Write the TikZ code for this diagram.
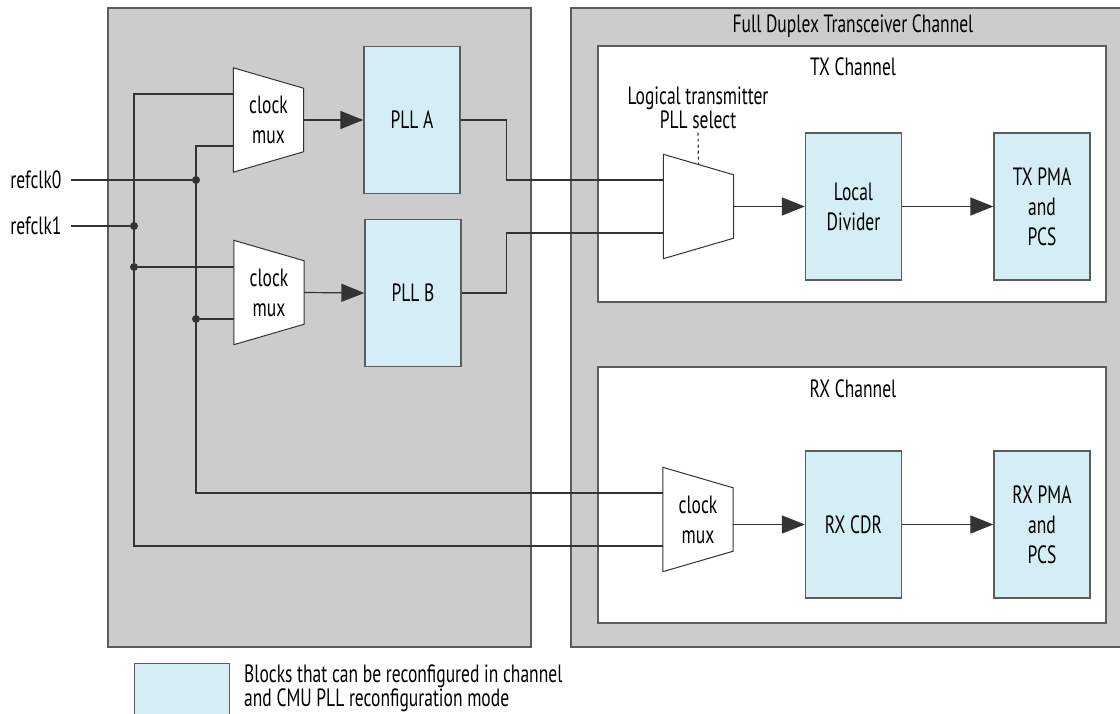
\documentclass[tikz,border=0pt]{standalone}
\usepackage{fontspec}
\setmainfont[FakeStretch=0.7]{PT Sans}
\usepackage{xcolor}
\usepackage{tikz}
\usetikzlibrary{arrows.meta,backgrounds}
\definecolor{framegray}{HTML}{CCCCCC}
\definecolor{cfgblue}{HTML}{D5EEF6}
\definecolor{edgegray}{HTML}{5C5C5C}
\definecolor{wiregray}{HTML}{333333}
\pgfdeclarelayer{frame}
\pgfsetlayers{frame,background,main}
\newcommand{\muxpoly}[1]{%
  \begin{scope}[on background layer]
    \draw[muxline] (#1.north west) -- ([yshift=-20.5pt]#1.north east) -- ([yshift=20.5pt]#1.south east) -- (#1.south west) -- cycle;
  \end{scope}}

\begin{document}
\begin{tikzpicture}[
  x=1pt, y=-1pt,
  font=\fontsize{25}{30}\selectfont,
  frame/.style={draw=edgegray, line width=1.5pt, fill=framegray},
  chan/.style={draw=edgegray, line width=1.5pt, fill=white},
  blk/.style={draw=edgegray, line width=1.3pt, fill=cfgblue, minimum width=96pt, minimum height=147pt, align=center, inner sep=0pt},
  mux/.style={minimum width=70pt, minimum height=104pt, align=center, inner sep=0pt},
  muxline/.style={draw=wiregray, line width=1pt, fill=white},
  sig/.style={draw=wiregray, line width=1.2pt},
  arr/.style={sig, -{Triangle[length=23pt, width=18pt]}},
  dot/.style={circle, fill=wiregray, inner sep=0pt, minimum size=8pt}
]
\useasboundingbox (0,0) rectangle (1120,714);
% Frames
\begin{pgfonlayer}{frame}
\draw[frame] (108,8) rectangle (531,647);
\draw[frame] (571,8) rectangle (1126,647);
\draw[chan] (598,46) rectangle (1106,302);
\draw[chan] (598,367) rectangle (1106,623);
\end{pgfonlayer}
\node (duplex) at (853,26) {Full Duplex Transceiver Channel};
\node (txlab) at (853,67) {TX Channel};
\node (rxlab) at (853,389) {RX Channel};
% PLL side
\node[mux] (muxA) at (268.5,120) {clock\\mux};
\node[mux] (muxB) at (269,292.5) {clock\\mux};
\muxpoly{muxA}
\muxpoly{muxB}
\node[blk] (pllA) at (412,120) {PLL A};
\node[blk] (pllB) at (413,293) {PLL B};
\node[anchor=east] (clk0) at (65,180) {refclk0};
\node[anchor=east] (clk1) at (65,226) {refclk1};
\node[dot] (j0) at (196,180) {};
\node[dot] (j1) at (134,226) {};
\node[dot] (j2) at (134,267) {};
\node[dot] (j3) at (196,319) {};
% TX channel
\node[mux] (muxT) at (698.5,206.5) {};
\muxpoly{muxT}
\node[font=\fontsize{25}{24}\selectfont, align=center] (sel) at (698,108) {Logical transmitter\\PLL select};
\node[blk] (div) at (853.5,206.5) {Local\\Divider};
\node[blk] (txpma) at (1042,206.5) {TX PMA\\and\\PCS};
% RX channel
\node[mux] (muxR) at (698,519.5) {clock\\mux};
\muxpoly{muxR}
\node[blk] (cdr) at (853.5,524.5) {RX CDR};
\node[blk] (rxpma) at (1042,524.5) {RX PMA\\and\\PCS};
% Wires
\draw[sig] ([xshift=6pt]clk0.east) -- (j0);
\draw[sig] ([xshift=6pt]clk1.east) -- (j1);
\draw[sig] ([yshift=26pt]muxA.west) -| (j2) |- ([yshift=-26.5pt]muxR.west);
\draw[sig] ([yshift=-26pt]muxA.west) -| (j3) |- ([yshift=26.5pt]muxR.west);
\draw[sig] (j2) -- (j2 -| muxB.west);
\draw[sig] (j3) -- (j3 -| muxB.west);
\draw[arr] (muxA.east) -- (pllA.west);
\draw[arr] (muxB.east) -- (pllB.west);
\draw[sig] (pllA.east) -- ++(46,0) |- ([yshift=26.5pt]muxT.west);
\draw[sig] (pllB.east) -- ++(45,0) |- ([yshift=-26.5pt]muxT.west);
\draw[sig, dashed, dash pattern=on 3pt off 3pt] (sel.south) -- ([yshift=-10pt]muxT.north);
\draw[arr] (muxT.east) -- (div.west);
\draw[arr] (div) -- (txpma);
\draw[arr] (muxR.east |- cdr.west) -- (cdr.west);
\draw[arr] (cdr) -- (rxpma);
% Legend
\node[blk, minimum width=95pt, minimum height=56pt, anchor=north west] (key) at (134,663) {};
\node[anchor=north west, align=left, inner sep=0pt, font=\fontsize{25}{24}\selectfont] (keytxt) at (244,665) {Blocks that can be reconfigured in channel\\and CMU PLL reconfiguration mode};
\end{tikzpicture}
\end{document}
